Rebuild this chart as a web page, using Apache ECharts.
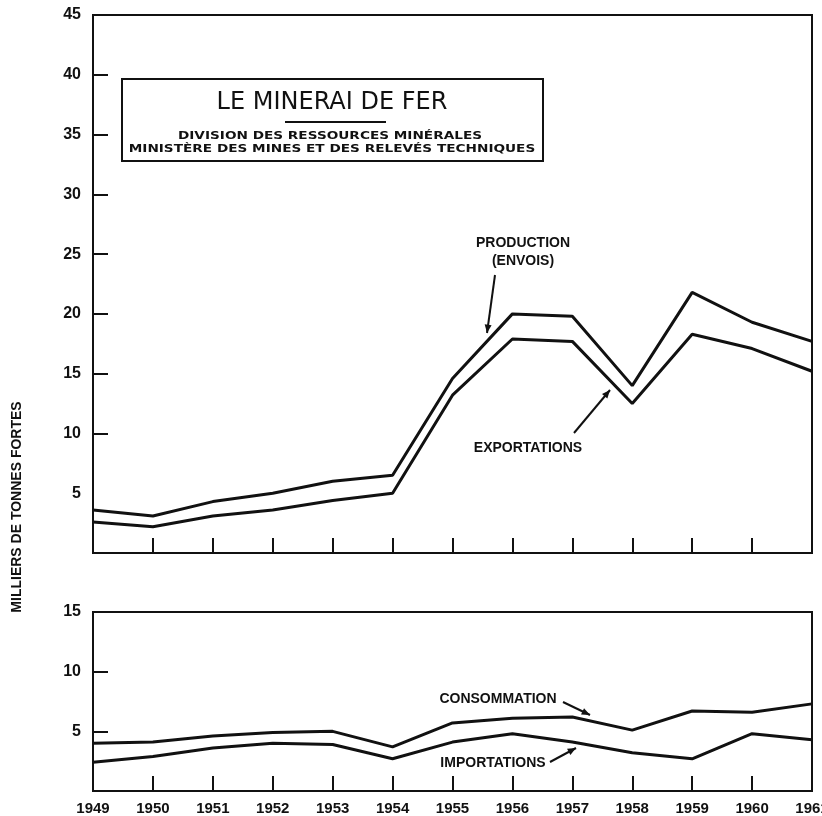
<!DOCTYPE html>
<html>
<head>
<meta charset="utf-8">
<script src="https://cdn.jsdelivr.net/npm/echarts@6/dist/echarts.min.js"></script>
<style>
  html, body { margin: 0; padding: 0; background: #fff; }
  #chart { width: 822px; height: 816px; }
</style>
</head>
<body>
<div id="chart"></div>
<script>
// années
const years = ['1949','1950','1951','1952','1953','1954','1955','1956','1957','1958','1959','1960','1961'];
// graphique du haut (milliers de tonnes fortes)
const production = [3.6, 3.1, 4.3, 5.0, 6.0, 6.5, 14.6, 20.0, 19.8, 14.0, 21.8, 19.3, 17.7];
const exportations = [2.6, 2.2, 3.1, 3.6, 4.4, 5.0, 13.2, 17.9, 17.7, 12.5, 18.3, 17.1, 15.2];
// graphique du bas
const consommation = [4.0, 4.1, 4.6, 4.9, 5.0, 3.7, 5.7, 6.1, 6.2, 5.1, 6.7, 6.6, 7.3];
const importations = [2.4, 2.9, 3.6, 4.0, 3.9, 2.7, 4.1, 4.8, 4.1, 3.2, 2.7, 4.8, 4.3];
// graduations
const topTicks = [10, 15, 20, 25, 30, 35, 40];
const topLabels = [5, 10, 15, 20, 25, 30, 35, 40, 45];
const bottomTicks = [5, 10];
const bottomLabels = [5, 10, 15];

const FONT = 'Liberation Sans';
const ink = '#111';

const chart = echarts.init(document.getElementById('chart'));

function xAxis(idx, showLabels) {
  return {
    type: 'category',
    gridIndex: idx,
    data: years,
    boundaryGap: false,
    axisLine: { show: true, lineStyle: { color: ink, width: 2 } },
    axisTick: { show: true, inside: true, length: 15, lineStyle: { color: ink, width: 2 } },
    axisLabel: {
      show: showLabels,
      color: ink,
      fontFamily: FONT,
      fontWeight: 'bold',
      fontSize: 15,
      margin: 10
    },
    splitLine: { show: false }
  };
}

function yAxis(idx, max, ticks, labels) {
  return {
    type: 'value',
    gridIndex: idx,
    min: 0,
    max: max,
    interval: 5,
    axisLine: { show: true, lineStyle: { color: ink, width: 2 } },
    axisTick: { show: true, inside: true, length: 15, customValues: ticks, lineStyle: { color: ink, width: 2 } },
    axisLabel: {
      customValues: labels,
      color: ink,
      fontFamily: FONT,
      fontWeight: 'bold',
      fontSize: 16,
      margin: 12
    },
    splitLine: { show: false }
  };
}

function line(name, data, idx) {
  return {
    name: name,
    type: 'line',
    xAxisIndex: idx,
    yAxisIndex: idx,
    data: data,
    symbol: 'none',
    lineStyle: { color: ink, width: 3 },
    z: 3
  };
}

function txt(x, y, s, size, family, sx) {
  return {
    type: 'text',
    x: x, y: y,
    scaleX: sx || 1,
    style: {
      text: s,
      fill: ink,
      font: 'bold ' + size + 'px "' + (family || FONT) + '"',
      align: 'center',
      verticalAlign: 'middle'
    }
  };
}

function arrow(x1, y1, x2, y2) {
  const a = Math.atan2(y2 - y1, x2 - x1);
  const L = 9, w = 0.4;
  return [
    { type: 'line', shape: { x1: x1, y1: y1, x2: x2, y2: y2 }, style: { stroke: ink, lineWidth: 2 } },
    { type: 'polygon', shape: { points: [
      [x2, y2],
      [x2 - L * Math.cos(a - w), y2 - L * Math.sin(a - w)],
      [x2 - L * Math.cos(a + w), y2 - L * Math.sin(a + w)]
    ] }, style: { fill: ink } }
  ];
}

const option = {
  backgroundColor: '#fff',
  animation: false,
  grid: [
    { left: 93, top: 15, width: 719, height: 538, outerBoundsMode: 'none', show: true, borderColor: ink, borderWidth: 2, backgroundColor: 'transparent' },
    { left: 93, top: 612, width: 719, height: 179, outerBoundsMode: 'none', show: true, borderColor: ink, borderWidth: 2, backgroundColor: 'transparent' }
  ],
  xAxis: [xAxis(0, false), xAxis(1, true)],
  yAxis: [yAxis(0, 45, topTicks, topLabels), yAxis(1, 15, bottomTicks, bottomLabels)],
  series: [
    line('Production (envois)', production, 0),
    line('Exportations', exportations, 0),
    line('Consommation', consommation, 1),
    line('Importations', importations, 1)
  ],
  graphic: [
    // cartouche du titre
    { type: 'rect', shape: { x: 122, y: 79, width: 421, height: 82 }, style: { fill: '#fff', stroke: ink, lineWidth: 2 } },
    { type: 'text', x: 332, y: 103, style: { text: 'LE MINERAI DE FER', fill: ink, font: '500 24px "DejaVu Sans"', align: 'center', verticalAlign: 'middle' } },
    { type: 'line', shape: { x1: 285, y1: 122, x2: 386, y2: 122 }, style: { stroke: ink, lineWidth: 2 } },
    txt(330, 136, 'DIVISION DES RESSOURCES MINÉRALES', 11, 'DejaVu Sans', 1.24),
    txt(332, 149, 'MINISTÈRE DES MINES ET DES RELEVÉS TECHNIQUES', 11, 'DejaVu Sans', 1.24),
    // titre de l'axe
    { type: 'text', x: 17, y: 507, rotation: Math.PI / 2, style: { text: 'MILLIERS DE TONNES FORTES', fill: ink, font: 'bold 14px "' + FONT + '"', align: 'center', verticalAlign: 'middle' } },
    // annotations
    txt(523, 243, 'PRODUCTION', 14),
    txt(523, 261, '(ENVOIS)', 14),
    ...arrow(495, 275, 487, 333),
    txt(528, 448, 'EXPORTATIONS', 14),
    ...arrow(574, 433, 610, 390),
    txt(498, 699, 'CONSOMMATION', 14),
    ...arrow(563, 702, 590, 715),
    txt(493, 763, 'IMPORTATIONS', 14),
    ...arrow(550, 762, 576, 748)
  ]
};

chart.setOption(option);
</script>
</body>
</html>
